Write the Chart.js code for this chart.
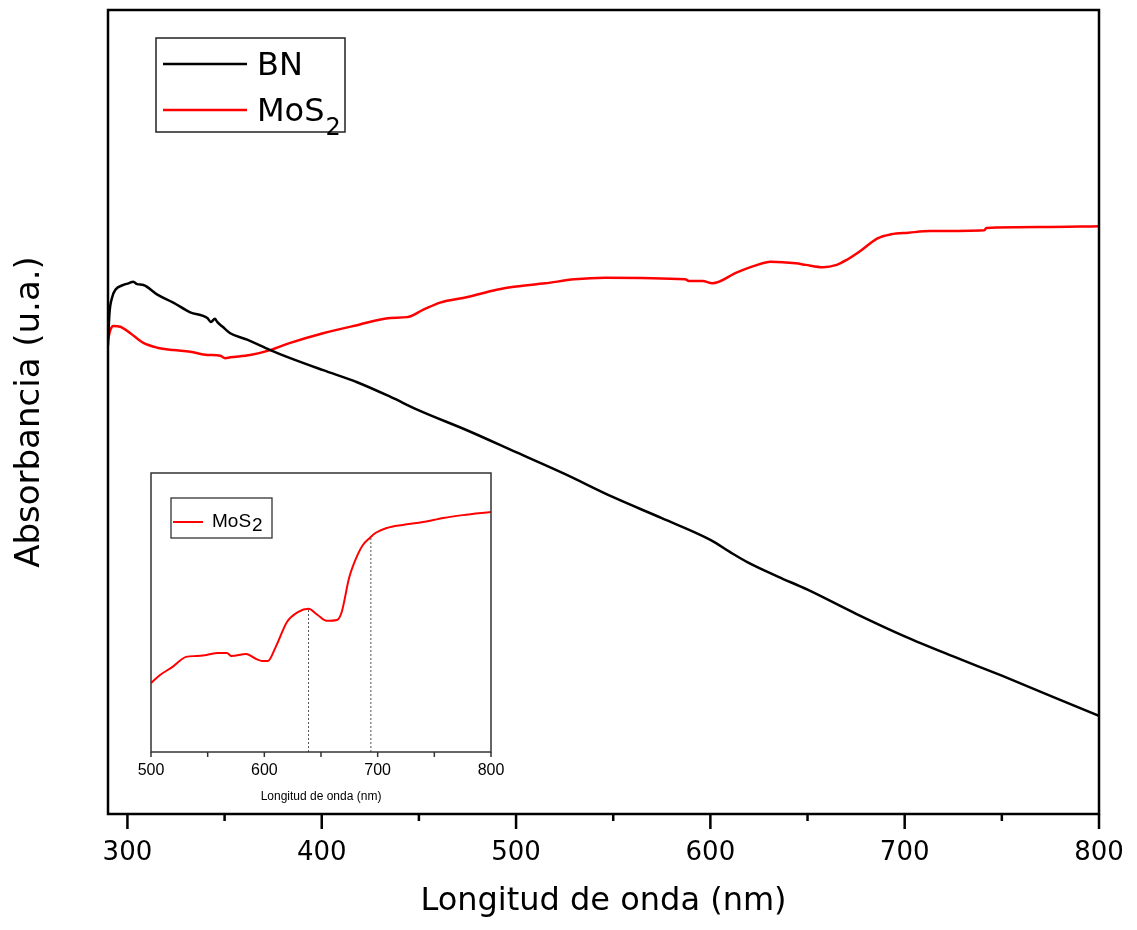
<!DOCTYPE html>
<html>
<head>
<meta charset="utf-8">
<script src="https://cdn.jsdelivr.net/npm/chart.js@4.4.1/dist/chart.umd.min.js"></script>
<style>
  html, body { margin: 0; padding: 0; background: #fff; }
  #wrap { position: relative; width: 1137px; height: 930px; }
  #main { position: absolute; left: 0; top: 0; }
  #inset { position: absolute; left: 100px; top: 460px; }
</style>
</head>
<body>
<div id="wrap">
  <canvas id="main" width="1137" height="930"></canvas>
  <canvas id="inset" width="420" height="350"></canvas>
</div>
<script>
// UV-vis absorbance, BN vs MoS2 (arbitrary units)

const BN_NM  = [290, 290.7, 292.2, 293.8, 297.9, 300.5, 303, 305, 308.2, 315.4, 323.6, 332.3, 341.1, 343, 345, 346.2, 349, 352.9, 361.6, 373.5, 383.8, 400.7, 418.2, 435.2, 450, 475, 500, 525, 550, 575, 600, 610, 620, 635, 650, 675, 700, 725, 750, 775, 800];
const BN_ABS = [58.3, 62.1, 64.3, 65.2, 65.8, 66.0, 66.2, 65.9, 65.8, 64.6, 63.6, 62.4, 61.7, 61.2, 61.6, 61.2, 60.6, 59.8, 59.0, 57.7, 56.7, 55.2, 53.7, 51.9, 50.2, 47.7, 45.0, 42.3, 39.4, 36.8, 34.1, 32.6, 31.2, 29.5, 27.9, 24.9, 22.1, 19.6, 17.2, 14.7, 12.2];

const MOS2_NM  = [290, 291.2, 292.7, 296.3, 301.5, 308.2, 315.4, 323.6, 332.3, 341.1, 347.8, 350.3, 352.9, 363.2, 373.5, 383.8, 400.7, 418.2, 435.2, 443.9, 452.1, 460.9, 475, 490, 500, 515, 530, 546, 587, 589, 596, 601, 614, 623, 631, 644, 649, 658, 665, 670, 677, 686, 693, 702, 713, 741, 742, 771, 800];
const MOS2_ABS = [59.0, 60.2, 60.7, 60.6, 59.8, 58.6, 58.0, 57.7, 57.5, 57.1, 57.0, 56.7, 56.8, 57.1, 57.7, 58.6, 59.8, 60.8, 61.7, 61.8, 62.7, 63.6, 64.3, 65.2, 65.6, 66.0, 66.5, 66.7, 66.5, 66.3, 66.3, 66.0, 67.4, 68.2, 68.7, 68.5, 68.3, 68.0, 68.3, 68.9, 70.0, 71.6, 72.1, 72.3, 72.5, 72.6, 72.9, 73.0, 73.1];

// inset: MoS2 zoomed 500-800 nm
const INSET_NM  = [500, 508, 519, 531, 540, 549, 559, 567, 571, 584, 593, 598, 603, 610, 620, 630, 639, 647, 655, 664, 668, 675, 683, 687, 693, 698, 708, 722, 740, 758, 775, 800];
const INSET_ABS = [24.7, 27.6, 30.5, 34.1, 34.4, 34.8, 35.5, 35.5, 34.4, 35.1, 33.3, 32.6, 32.6, 37.6, 46.6, 50.2, 51.3, 49.1, 47.0, 47.3, 49.8, 62.7, 71.3, 74.2, 76.7, 78.5, 80.3, 81.4, 82.4, 83.9, 84.9, 86.0];
const PEAK_NM  = [639, 694];
const PEAK_ABS = [51.3, 77.0];

const X_TICKS = [300, 400, 500, 600, 700, 800];
const X_MINOR = [350, 450, 550, 650, 750];
const INSET_TICKS = [500, 600, 700, 800];
const INSET_MINOR = [550, 650, 750];

const pts = (xs, ys) => xs.map((x, i) => ({ x, y: ys[i] }));

// draws "MoS2" with the trailing digits as subscript
function drawLabel(ctx, text, x, y, font, subFont, drop) {
    const m = text.match(/^(.*?)(\d+)$/);
    ctx.font = font;
    ctx.textBaseline = 'alphabetic';
    ctx.textAlign = 'left';
    if (!m) { ctx.fillText(text, x, y); return; }
    ctx.fillText(m[1], x, y);
    const w = ctx.measureText(m[1]).width;
    ctx.font = subFont;
    ctx.fillText(m[2], x + w + 1, y + drop);
}

// box frame, tick marks and legend box
const framePlugin = {
    id: 'frame',
    afterDraw(chart, args, o) {
        const { ctx, chartArea: a } = chart;
        const x = chart.scales.x;
        ctx.save();
        ctx.strokeStyle = o.color;
        ctx.lineWidth = o.width;
        ctx.strokeRect(a.left, a.top, a.right - a.left, a.bottom - a.top);
        ctx.beginPath();
        o.major.forEach(v => { const px = x.getPixelForValue(v); ctx.moveTo(px, a.bottom); ctx.lineTo(px, a.bottom + o.majorLen); });
        o.minor.forEach(v => { const px = x.getPixelForValue(v); ctx.moveTo(px, a.bottom); ctx.lineTo(px, a.bottom + o.minorLen); });
        ctx.stroke();

        const lg = o.legend;
        const bx = a.left + lg.x, by = a.top + lg.y;
        ctx.lineWidth = lg.border;
        ctx.strokeStyle = lg.borderColor;
        ctx.strokeRect(bx, by, lg.w, lg.h);
        chart.data.datasets.forEach((ds, i) => {
            if (ds.hideInLegend) return;
            const ly = by + lg.rows[i];
            ctx.strokeStyle = ds.borderColor;
            ctx.lineWidth = ds.borderWidth;
            ctx.beginPath();
            ctx.moveTo(bx + lg.lineFrom, ly);
            ctx.lineTo(bx + lg.lineTo, ly);
            ctx.stroke();
            ctx.fillStyle = '#000';
            drawLabel(ctx, ds.label, bx + lg.textX, ly + lg.baseline, lg.font, lg.subFont, lg.drop);
        });
        ctx.restore();
    }
};

new Chart(document.getElementById('main'), {
    type: 'line',
    data: {
        datasets: [
            { label: 'BN', data: pts(BN_NM, BN_ABS), borderColor: '#000000', borderWidth: 2.5, pointRadius: 0, cubicInterpolationMode: 'monotone' },
            { label: 'MoS2', data: pts(MOS2_NM, MOS2_ABS), borderColor: '#ff0000', borderWidth: 2.5, pointRadius: 0, cubicInterpolationMode: 'monotone' }
        ]
    },
    options: {
        responsive: false,
        animation: false,
        layout: { padding: { top: 10, right: 38, left: 0, bottom: 0 } },
        plugins: {
            legend: { display: false },
            tooltip: { enabled: false },
            frame: {
                color: '#000', width: 2.5, major: X_TICKS, minor: X_MINOR, majorLen: 15, minorLen: 7,
                legend: {
                    x: 48, y: 28, w: 189, h: 94, border: 1.5, borderColor: '#222',
                    rows: [26, 72], lineFrom: 7, lineTo: 91, textX: 101, baseline: 11,
                    font: '32px "DejaVu Sans"', subFont: '24px "DejaVu Sans"', drop: 14
                }
            }
        },
        scales: {
            x: {
                type: 'linear', min: 290, max: 800,
                afterBuildTicks: axis => { axis.ticks = X_TICKS.map(v => ({ value: v })); },
                afterFit: axis => { axis.height = 116; axis.paddingLeft = 0; axis.paddingRight = 0; },
                grid: { display: false, drawTicks: false },
                border: { display: false },
                ticks: { padding: 24, color: '#000', autoSkip: false, maxRotation: 0, font: { family: 'DejaVu Sans', size: 26 } },
                title: { display: true, text: 'Longitud de onda (nm)', color: '#000', font: { family: 'DejaVu Sans', size: 32 }, padding: { top: 0, bottom: 9 } }
            },
            y: {
                min: 0, max: 100,
                afterFit: axis => { axis.width = 108; axis.paddingTop = 0; axis.paddingBottom = 0; },
                grid: { display: false, drawTicks: false },
                border: { display: false },
                ticks: { display: false },
                title: { display: true, text: 'Absorbancia (u.a.)', color: '#000', font: { family: 'DejaVu Sans', size: 34 }, padding: { top: 10, bottom: 0 } }
            }
        }
    },
    plugins: [framePlugin]
});

new Chart(document.getElementById('inset'), {
    type: 'line',
    data: {
        datasets: [
            { label: 'MoS2', data: pts(INSET_NM, INSET_ABS), borderColor: '#ff0000', borderWidth: 2, pointRadius: 0, cubicInterpolationMode: 'monotone' },
            ...PEAK_NM.map((nm, i) => ({
                label: 'peak', hideInLegend: true, data: [{ x: nm, y: 0 }, { x: nm, y: PEAK_ABS[i] }],
                borderColor: '#555', borderWidth: 1, borderDash: [2, 2], pointRadius: 0
            }))
        ]
    },
    options: {
        responsive: false,
        animation: false,
        layout: { padding: { top: 13, right: 29, left: 0, bottom: 0 } },
        plugins: {
            legend: { display: false },
            tooltip: { enabled: false },
            frame: {
                color: '#333', width: 1.5, major: INSET_TICKS, minor: INSET_MINOR, majorLen: 5, minorLen: 5,
                legend: {
                    x: 20, y: 25, w: 101, h: 40, border: 1.3, borderColor: '#333',
                    rows: [24], lineFrom: 2, lineTo: 32, textX: 41, baseline: 5,
                    font: '19px "Liberation Sans"', subFont: '19px "Liberation Sans"', drop: 4
                }
            }
        },
        scales: {
            x: {
                type: 'linear', min: 500, max: 800,
                afterBuildTicks: axis => { axis.ticks = INSET_TICKS.map(v => ({ value: v })); },
                afterFit: axis => { axis.height = 58; axis.paddingLeft = 0; axis.paddingRight = 0; },
                grid: { display: false, drawTicks: false },
                border: { display: false },
                ticks: { padding: 9, color: '#000', autoSkip: false, maxRotation: 0, font: { family: 'Liberation Sans', size: 16 } },
                title: { display: true, text: 'Longitud de onda (nm)', color: '#000', font: { family: 'Liberation Sans', size: 12 }, padding: { top: 0, bottom: 6 } }
            },
            y: {
                min: 0, max: 100,
                afterFit: axis => { axis.width = 51; axis.paddingTop = 0; axis.paddingBottom = 0; },
                grid: { display: false, drawTicks: false },
                border: { display: false },
                ticks: { display: false }
            }
        }
    },
    plugins: [framePlugin]
});
</script>
</body>
</html>
